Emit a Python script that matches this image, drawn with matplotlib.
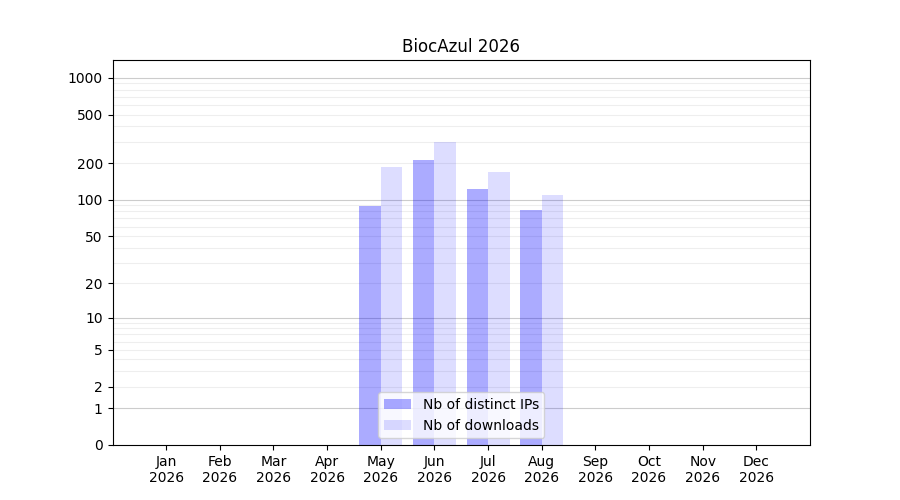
import numpy as np
import matplotlib
matplotlib.use("Agg")
import matplotlib.pyplot as plt

months = ["Jan", "Feb", "Mar", "Apr", "May", "Jun", "Jul", "Aug", "Sep", "Oct", "Nov", "Dec"]
year = "2026"
distinct_ips = [0, 0, 0, 0, 89, 213, 123, 83, 0, 0, 0, 0]
downloads = [0, 0, 0, 0, 186, 299, 170, 110, 0, 0, 0, 0]
ytick_vals = [0, 1, 2, 5, 10, 20, 50, 100, 200, 500, 1000]

fwd = lambda v: np.log10(1 + np.asarray(v, dtype=float))
inv = lambda v: 10 ** np.asarray(v, dtype=float) - 1

fig, ax = plt.subplots(figsize=(9, 5), dpi=100)
ax.set_yscale("function", functions=(fwd, inv))

x = np.arange(len(months))
w = 0.4
ax.bar(x - w / 2, distinct_ips, width=w, color="blue", alpha=0.33, label="Nb of distinct IPs", zorder=2)
ax.bar(x + w / 2, downloads, width=w, color="blue", alpha=0.135, label="Nb of downloads", zorder=2)

# grid lines: darker on powers of ten, lighter in between
for p in [1, 10, 100, 1000]:
    ax.axhline(p, color="#cccccc", linewidth=0.8, zorder=1)
    for m in range(2, 10):
        if m * p < 1400:
            ax.axhline(m * p, color="#eeeeee", linewidth=0.8, zorder=1)

ax.set_ylim(0, 1400)
ax.set_yticks(ytick_vals)
ax.set_yticklabels([str(v) for v in ytick_vals])
ax.yaxis.set_minor_locator(matplotlib.ticker.NullLocator())
ax.set_xlim(-1, 12)
ax.set_xticks(x)
ax.set_xticklabels([m + "\n" + year for m in months])
ax.set_title("BiocAzul " + year)
ax.legend(loc="lower center")

fig.savefig("out.png")
